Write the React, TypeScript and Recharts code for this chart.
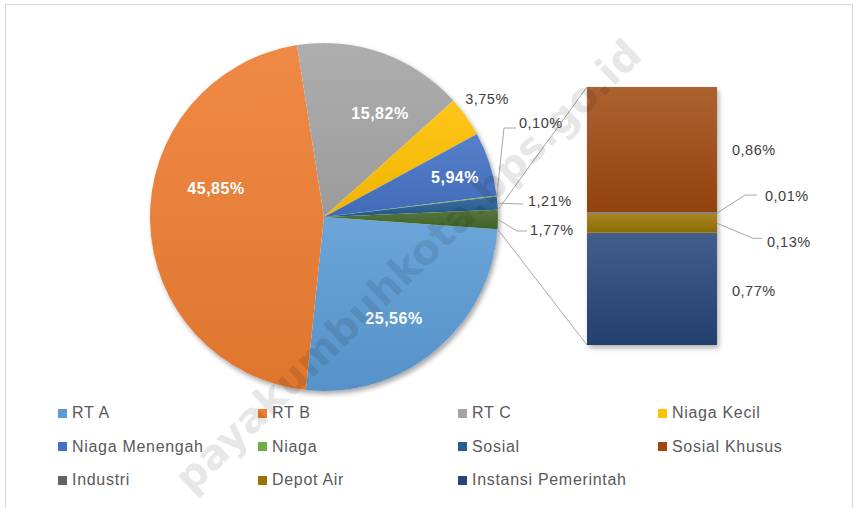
import React from 'react';
import { PieChart, Pie, Cell, BarChart, Bar, XAxis, YAxis } from 'recharts';

// pie slices, clockwise from the right; the last one is the "other" slice split out into the bar
const pieNames = ['RT A', 'RT B', 'RT C', 'Niaga Kecil', 'Niaga Menengah', 'Niaga', 'Sosial', 'Lainnya'];
const pieValues = [25.56, 45.85, 15.82, 3.75, 5.94, 0.1, 1.21, 1.77];
const pieColors = ['#5B9BD5', '#ED7D31', '#A5A5A5', '#FFC000', '#4472C4', '#70AD47', '#255E91', '#43682B'];

// breakdown of the "other" slice, bottom to top of the bar
const barNames = ['Instansi Pemerintah', 'Depot Air', 'Industri', 'Sosial Khusus'];
const barValues = [0.77, 0.13, 0.01, 0.86];
const barColors = ['#264478', '#997300', '#636363', '#9E480E'];

const legendNames = ['RT A', 'RT B', 'RT C', 'Niaga Kecil', 'Niaga Menengah', 'Niaga', 'Sosial', 'Sosial Khusus', 'Industri', 'Depot Air', 'Instansi Pemerintah'];
const legendColors = ['#5B9BD5', '#ED7D31', '#A5A5A5', '#FFC000', '#4472C4', '#70AD47', '#255E91', '#9E480E', '#636363', '#997300', '#264478'];

const W = 855;
const H = 508;
const CX = 324;
const CY = 217;
const R = 174;
const BAR_LEFT = 587;
const BAR_W = 130;
const BAR_TOP = 87;
const BAR_BOTTOM = 345;

const RAD = Math.PI / 180;
const fmt = (v: number) => v.toFixed(2).replace('.', ',') + '%';

// label placement, offsets from pie centre
const pieLabelLayout: Record<string, any> = {
  'RT A': { inside: true, x: 70, y: 101 },
  'RT B': { inside: true, x: -108, y: -29 },
  'RT C': { inside: true, x: 56, y: -104 },
  'Niaga Kecil': { x: 163, y: -118, anchor: 'middle' },
  'Niaga Menengah': { inside: true, x: 131, y: -40 },
  Niaga: { x: 195, y: -94, anchor: 'start', leader: [[180, -89], [192, -89]] },
  Sosial: { x: 204, y: -16, anchor: 'start', leader: [[199, -13]] },
  Lainnya: { x: 206, y: 13, anchor: 'start', leader: [[193, 14], [203, 14]] },
};

const shade = (hex: string, f: number) => {
  const n = parseInt(hex.slice(1), 16);
  const ch = [(n >> 16) & 255, (n >> 8) & 255, n & 255].map((c) =>
    Math.round(f >= 0 ? c + (255 - c) * f : c * (1 + f))
  );
  return `rgb(${ch.join(',')})`;
};

const lineColor = '#A6A6A6';
const textColor = '#404040';
const labelFont = '"Liberation Sans", Arial, sans-serif';

const renderPieLabel = (props: any) => {
  const { cx, cy, index, midAngle, outerRadius, startAngle, endAngle } = props;
  const name = pieNames[index];
  const lp = pieLabelLayout[name];
  const out: React.ReactNode[] = [];
  if (lp.leader) {
    const sx = cx + outerRadius * Math.cos(-midAngle * RAD);
    const sy = cy + outerRadius * Math.sin(-midAngle * RAD);
    const pts = [[sx, sy], ...lp.leader.map((p: number[]) => [cx + p[0], cy + p[1]])];
    out.push(
      <polyline key="l" points={pts.map((p) => p.join(',')).join(' ')} fill="none" stroke={lineColor} strokeWidth={1} />
    );
  }
  if (index === pieNames.length - 1) {
    // connectors from the other slice to the bar
    const a1 = Math.max(startAngle, endAngle);
    const a2 = Math.min(startAngle, endAngle);
    const p1 = [cx + outerRadius * Math.cos(-a1 * RAD), cy + outerRadius * Math.sin(-a1 * RAD)];
    const p2 = [cx + outerRadius * Math.cos(-a2 * RAD), cy + outerRadius * Math.sin(-a2 * RAD)];
    out.push(<line key="c1" x1={p1[0]} y1={p1[1]} x2={BAR_LEFT} y2={BAR_TOP} stroke={lineColor} strokeWidth={1} />);
    out.push(<line key="c2" x1={p2[0]} y1={p2[1]} x2={BAR_LEFT} y2={BAR_BOTTOM} stroke={lineColor} strokeWidth={1} />);
  }
  out.push(
    <text
      key="t"
      x={cx + lp.x}
      y={cy + lp.y}
      textAnchor={lp.inside ? 'middle' : lp.anchor}
      dominantBaseline="central"
      fill={lp.inside ? '#FFFFFF' : textColor}
      fontFamily={labelFont}
      fontSize={lp.inside ? 16 : 14.5}
      fontWeight={lp.inside ? 700 : 400}
      letterSpacing={0.5}
    >
      {fmt(pieValues[index])}
    </text>
  );
  return <g>{out}</g>;
};

// bar label placement relative to the bar's right edge and segment centre
const barLabelLayout: Record<string, any> = {
  'Sosial Khusus': { x: 15, y: 0 },
  Industri: { x: 48, y: -17, leader: [[28, -18], [40, -18]] },
  'Depot Air': { x: 50, y: 19, leader: [[36, 15], [45, 15]] },
  'Instansi Pemerintah': { x: 15, y: 2 },
};

const makeBarLabel = (name: string, value: number) => (props: any) => {
  const { x, y, width, height } = props;
  const lp = barLabelLayout[name];
  const rx = Number(x) + Number(width);
  const my = Number(y) + Number(height) / 2;
  return (
    <g>
      {lp.leader && (
        <polyline
          points={[[rx, my], ...lp.leader.map((p: number[]) => [rx + p[0], my + p[1]])].map((p) => p.join(',')).join(' ')}
          fill="none"
          stroke={lineColor}
          strokeWidth={1}
        />
      )}
      <text
        x={rx + lp.x}
        y={my + lp.y}
        textAnchor="start"
        dominantBaseline="central"
        fill={textColor}
        fontFamily={labelFont}
        fontSize={14.5}
        letterSpacing={0.5}
      >
        {fmt(value)}
      </text>
    </g>
  );
};

const pieData = pieNames.map((name, i) => ({ name, value: pieValues[i] }));
const barRow: Record<string, any> = { name: 'Lainnya' };
barNames.forEach((n, i) => (barRow[n] = barValues[i]));
const barData = [barRow];

export default function App() {
  return (
    <div style={{ position: 'relative', width: W, height: H, background: '#fff', overflow: 'hidden' }}>
      <style>{`body{margin:0}`}</style>
      <div
        style={{
          position: 'absolute', left: 5, top: 4, width: 848, height: 520,
          border: '1px solid #D9D9D9', boxSizing: 'border-box',
        }}
      />
      {/* soft shadows behind the pie and the bar */}
      <div
        style={{
          position: 'absolute', left: CX - R, top: CY - R, width: 2 * R, height: 2 * R,
          borderRadius: '50%', boxShadow: '2px 3px 5px rgba(0,0,0,0.35)',
        }}
      />
      <div
        style={{
          position: 'absolute', left: BAR_LEFT, top: BAR_TOP, width: BAR_W, height: BAR_BOTTOM - BAR_TOP,
          boxShadow: '2px 3px 5px rgba(0,0,0,0.3)',
        }}
      />
      <div style={{ position: 'absolute', left: 0, top: 0 }}>
        <PieChart width={W} height={H} margin={{ top: 0, right: 0, bottom: 0, left: 0 }}>
          <defs>
            {pieColors.map((c, i) => (
              <linearGradient key={i} id={`pg${i}`} x1="0" y1="0" x2="0" y2="1">
                <stop offset="0%" stopColor={shade(c, 0.1)} />
                <stop offset="100%" stopColor={shade(c, -0.06)} />
              </linearGradient>
            ))}
          </defs>
          <Pie
            data={pieData}
            dataKey="value"
            nameKey="name"
            cx={CX}
            cy={CY}
            outerRadius={R}
            startAngle={-4}
            endAngle={-364}
            stroke="none"
            label={renderPieLabel}
            labelLine={false}
            isAnimationActive={false}
          >
            {pieData.map((d, i) => (
              <Cell key={d.name} fill={`url(#pg${i})`} />
            ))}
          </Pie>
        </PieChart>
      </div>
      <div style={{ position: 'absolute', left: BAR_LEFT, top: 0 }}>
        <BarChart
          width={W - BAR_LEFT}
          height={H}
          data={barData}
          margin={{ top: BAR_TOP, bottom: H - BAR_BOTTOM, left: 0, right: W - BAR_LEFT - BAR_W }}
          barCategoryGap={0}
        >
          <defs>
            {barColors.map((c, i) => (
              <linearGradient key={i} id={`bg${i}`} x1="0" y1="0" x2="0" y2="1">
                <stop offset="0%" stopColor={shade(c, 0.14)} />
                <stop offset="100%" stopColor={shade(c, -0.08)} />
              </linearGradient>
            ))}
          </defs>
          <XAxis dataKey="name" hide />
          <YAxis hide domain={[0, 'dataMax']} />
          {barNames.map((n, i) => (
            <Bar
              key={n}
              dataKey={n}
              stackId="a"
              fill={`url(#bg${i})`}
              isAnimationActive={false}
              label={makeBarLabel(n, barValues[i])}
            />
          ))}
        </BarChart>
      </div>
      {/* legend */}
      <div style={{ position: 'absolute', left: 0, top: 0, fontFamily: labelFont }}>
        {legendNames.map((n, i) => {
          const col = i % 4;
          const row = Math.floor(i / 4);
          return (
            <div
              key={n}
              style={{
                position: 'absolute', left: 58 + col * 200, top: 413 + row * 33.5 - 10, height: 20,
                display: 'flex', alignItems: 'center', whiteSpace: 'nowrap',
                fontSize: 16, color: '#595959', letterSpacing: 0.7,
              }}
            >
              <span style={{ display: 'inline-block', width: 9, height: 9, background: legendColors[i], marginRight: 5 }} />
              {n}
            </div>
          );
        })}
      </div>
      {/* source watermark */}
      <svg width={W} height={H} style={{ position: 'absolute', left: 0, top: 0, pointerEvents: 'none' }}>
        <text
          x={408}
          y={266}
          textAnchor="middle"
          dominantBaseline="central"
          transform="rotate(-44 408 266)"
          fontFamily='"DejaVu Sans", Verdana, sans-serif'
          fontWeight={700}
          fontSize={41}
          fill="rgba(0,0,0,0.11)"
        >
          payakumbuhkota.bps.go.id
        </text>
      </svg>
    </div>
  );
}
